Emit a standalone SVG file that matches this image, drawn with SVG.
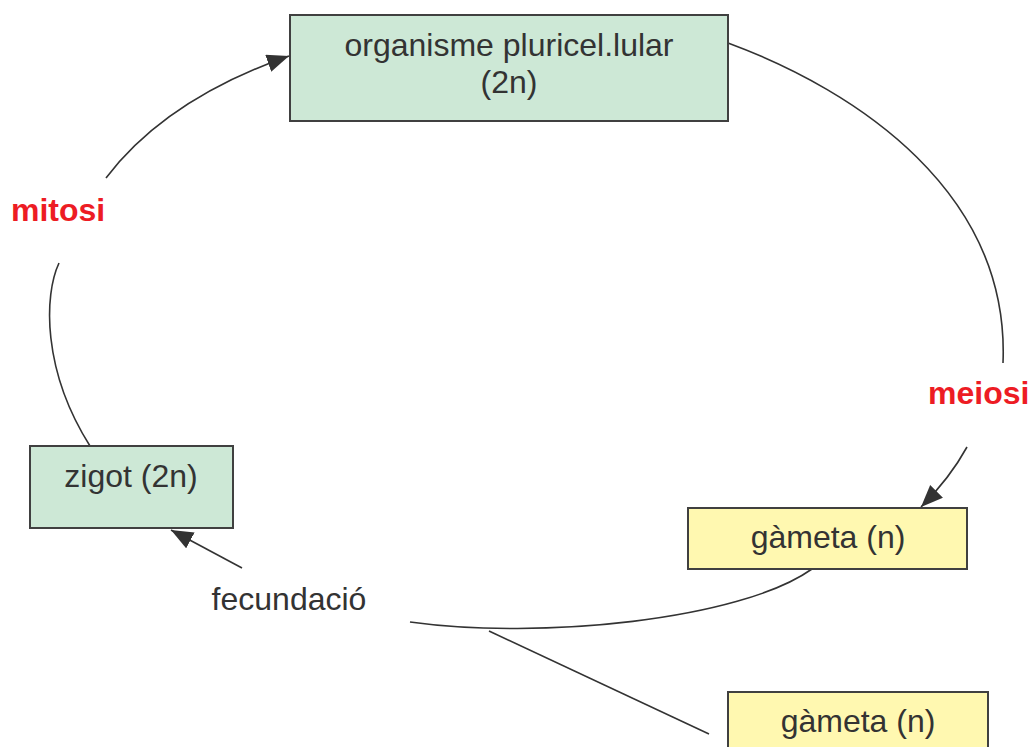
<svg xmlns="http://www.w3.org/2000/svg" width="1031" height="747" viewBox="0 0 1031 747">
<style>
.box{stroke:#404040;stroke-width:2}
.g{fill:#cde8d6}
.y{fill:#fff8b0}
.t{font-family:"Liberation Sans",Arial,sans-serif;font-size:32px;fill:#333;text-anchor:middle}
.r{font-family:"Liberation Sans",Arial,sans-serif;font-size:32px;font-weight:bold;fill:#ed1c24}
.c{fill:none;stroke:#333;stroke-width:1.6}
</style>
<defs>
<marker id="ah" markerUnits="userSpaceOnUse" markerWidth="24" markerHeight="20" refX="22" refY="9" orient="auto">
<path d="M0,0 L22,9 L0,18 z" fill="#333"/>
</marker>
</defs>
<rect width="1031" height="747" fill="#fff"/>
<g id="connectors">
<path class="c" d="M106,178 C150,120 215,82 289,56" marker-end="url(#ah)"/>
<path class="c" d="M59,263 C44,295 42,370 90,446"/>
<path class="c" d="M728,43 C858,91 1010,193 1003,363"/>
<path class="c" d="M967,447 Q950,478 921,507" marker-end="url(#ah)"/>
<path class="c" d="M812,569 C740,620 540,640 410,622"/>
<path class="c" d="M489,631 L709,734"/>
<path class="c" d="M242,568 L171,530" marker-end="url(#ah)"/>
</g>
<g id="organisme">
<rect class="box g" x="290" y="15" width="438" height="106"/>
<text class="t" x="509" y="56">organisme pluricel.lular</text>
<text class="t" x="509" y="93">(2n)</text>
</g>
<g id="zigot">
<rect class="box g" x="30" y="446" width="203" height="82"/>
<text class="t" x="131" y="487">zigot (2n)</text>
</g>
<g id="gameta1">
<rect class="box y" x="688" y="508" width="279" height="61"/>
<text class="t" x="828" y="548">gàmeta (n)</text>
</g>
<g id="gameta2">
<rect class="box y" x="728" y="692" width="260" height="70"/>
<text class="t" x="858" y="732">gàmeta (n)</text>
</g>
<g id="labels">
<text class="r" x="11" y="221">mitosi</text>
<text class="r" x="928" y="404">meiosi</text>
<text class="t" x="289" y="610">fecundació</text>
</g>
</svg>
